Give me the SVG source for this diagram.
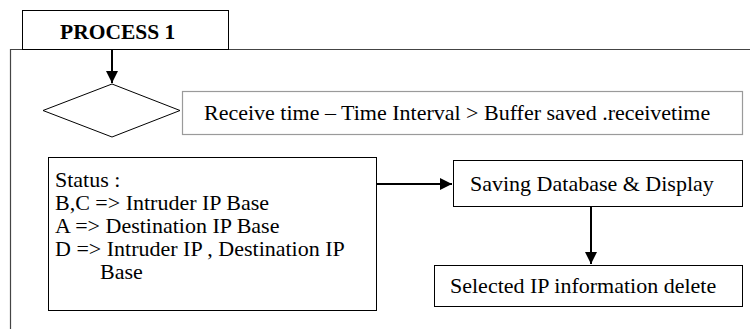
<svg xmlns="http://www.w3.org/2000/svg" width="750" height="329" viewBox="0 0 750 329">
  <style>
    text { font-family: "Liberation Serif", "Times New Roman", serif; fill: #000; font-size: 22px; }
    .title { font-size: 21.5px; font-weight: bold; }
    .box { fill: #fff; stroke: #000; stroke-width: 1; }
    .soft { fill: #fff; stroke: #9a9a9a; stroke-width: 1.2; }
    .frame { fill: none; stroke: #444; stroke-width: 1.2; }
    .wire { fill: none; stroke: #000; stroke-width: 2; }
  </style>
  <defs>
    <marker id="head" viewBox="0 0 10 10" refX="10" refY="5" markerWidth="6" markerHeight="6" markerUnits="strokeWidth" orient="auto">
      <path d="M0,0 L10,5 L0,10 Z" fill="#000"/>
    </marker>
  </defs>

  <rect width="750" height="329" fill="#fff"/>

  <!-- outer process frame with title tab -->
  <g id="frame">
    <path class="frame" d="M10.5,329 V49.5 H750"/>
  </g>
  <g id="process-tab">
    <rect class="box" x="22.5" y="10.5" width="206" height="39"/>
    <text class="title" x="60" y="39">PROCESS 1</text>
  </g>

  <g id="decision">
    <polygon class="box" points="43,110.5 112,84 180,110.5 112,137"/>
  </g>

  <g id="condition">
    <rect class="soft" x="182.5" y="91.5" width="560" height="43"/>
    <text x="204" y="120">Receive time – Time Interval &gt; Buffer saved .receivetime</text>
  </g>

  <g id="status">
    <rect class="box" x="48.5" y="157.5" width="328" height="153"/>
    <text x="55" y="187">Status :</text>
    <text x="55" y="210">B,C =&gt; Intruder IP Base</text>
    <text x="55" y="233">A =&gt; Destination IP Base</text>
    <text x="55" y="256">D =&gt; Intruder IP , Destination IP</text>
    <text x="100" y="279">Base</text>
  </g>

  <g id="saving">
    <rect class="box" x="453.5" y="160.5" width="289" height="46"/>
    <text x="470" y="190.5">Saving Database &amp; Display</text>
  </g>

  <g id="delete">
    <rect class="box" x="434.5" y="265.5" width="308" height="41"/>
    <text x="450" y="293">Selected IP information delete</text>
  </g>

  <g id="connectors">
    <line class="wire" x1="112" y1="50" x2="112" y2="83" marker-end="url(#head)"/>
    <line class="wire" x1="377" y1="184" x2="452" y2="184" marker-end="url(#head)"/>
    <line class="wire" x1="591" y1="207" x2="591" y2="264" marker-end="url(#head)"/>
  </g>
</svg>
